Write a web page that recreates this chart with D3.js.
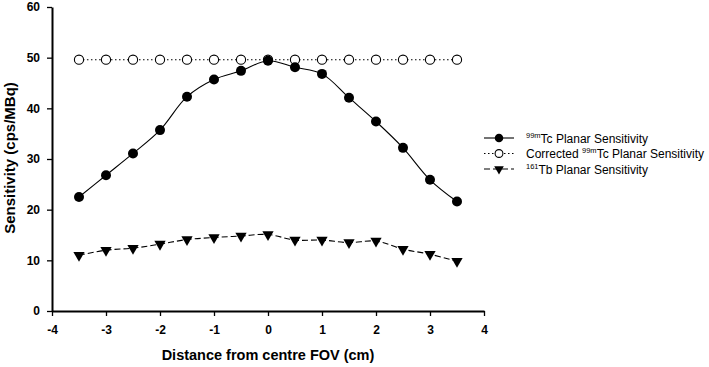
<!DOCTYPE html>
<html><head><meta charset="utf-8">
<script src="https://cdn.jsdelivr.net/npm/d3@7"></script>
<style>body{margin:0;background:#fff}svg{display:block}text{font-family:Arial,"Liberation Sans",sans-serif}</style>
</head><body><svg id="c" width="709" height="367"></svg>
<script>
const xVals = [-3.5,-3,-2.5,-2,-1.5,-1,-0.5,0,0.5,1,1.5,2,2.5,3,3.5];
const tcPlanar = [22.5,26.8,31.1,35.7,42.3,45.7,47.4,49.4,48.1,46.8,42.1,37.4,32.2,25.9,21.6];
const tcCorrected = [49.6,49.6,49.6,49.6,49.6,49.6,49.6,49.6,49.6,49.6,49.6,49.6,49.6,49.6,49.6];
const tbPlanar = [11.0,12.0,12.4,13.2,14.1,14.5,14.8,15.1,14.0,14.0,13.5,13.8,12.2,11.2,9.8];
const xTicks = [-4,-3,-2,-1,0,1,2,3,4];
const yTicks = [0,10,20,30,40,50,60];

const svg = d3.select("#c");
const x = d3.scaleLinear().domain([-4,4]).range([52,484]);
const y = d3.scaleLinear().domain([0,60]).range([311,7]);

// axes
const xa = svg.append("g").attr("transform","translate(0,311)")
  .call(d3.axisBottom(x).tickValues(xTicks).tickSize(5).tickSizeOuter(0).tickFormat(d=>String(d)));
const ya = svg.append("g").attr("transform","translate(52,0)")
  .call(d3.axisLeft(y).tickValues(yTicks).tickSize(5).tickSizeOuter(0).tickFormat(d=>String(d)));
[xa,ya].forEach(a=>{
  a.select(".domain").attr("stroke","#000").attr("stroke-width",2);
  a.selectAll(".tick line").attr("stroke","#000").attr("stroke-width",1.3);
  a.selectAll(".tick text").attr("font-size",12).attr("font-weight","bold").attr("fill","#000")
    .attr("font-family","Arial, 'Liberation Sans', sans-serif");
});
xa.selectAll(".tick text").attr("dy","1.25em");
ya.selectAll(".tick text").attr("dx","-4");

svg.append("text").attr("x",268).attr("y",360).attr("text-anchor","middle")
  .attr("font-size",14.5).attr("font-weight","bold").text("Distance from centre FOV (cm)");
svg.append("text").attr("transform","translate(15,158) rotate(-90)").attr("text-anchor","middle")
  .attr("font-size",15).attr("font-weight","bold").text("Sensitivity (cps/MBq)");

const line = d3.line().x(d=>x(d[0])).y(d=>y(d[1])).curve(d3.curveCatmullRom.alpha(0.5));
const tri = d3.symbol().type(d3.symbolTriangle).size(55);
const triSmall = d3.symbol().type(d3.symbolTriangle).size(40);

function series(vals, dash, marker){
  const pts = xVals.map((v,i)=>[v,vals[i]]);
  svg.append("path").datum(pts).attr("d",line).attr("fill","none").attr("stroke","#000")
    .attr("stroke-width",1.1).attr("stroke-dasharray",dash);
  const g = svg.append("g");
  pts.forEach(p=>drawMarker(g, x(p[0]), y(p[1]), marker, 1));
}
function drawMarker(g, cx, cy, m, s){
  if(m==="filled") g.append("circle").attr("cx",cx).attr("cy",cy).attr("r",5*s).attr("fill","#000");
  else if(m==="open") g.append("circle").attr("cx",cx).attr("cy",cy).attr("r",4.6*s).attr("fill","#fff").attr("stroke","#000").attr("stroke-width",1.1);
  else g.append("path").attr("d",s<1?triSmall:tri).attr("transform",`translate(${cx},${cy}) rotate(180)`).attr("fill","#000");
}
series(tcCorrected,"1.5,2.5","open");
series(tbPlanar,"6,3","tri");
series(tcPlanar,null,"filled");

// legend
const leg = [
  {dash:null,m:"filled",pre:"",sup:"99m",post:"Tc Planar Sensitivity"},
  {dash:"1.5,2.5",m:"open",pre:"Corrected ",sup:"99m",post:"Tc Planar Sensitivity"},
  {dash:"6,3",m:"tri",pre:"",sup:"161",post:"Tb Planar Sensitivity"}
];
leg.forEach((l,i)=>{
  const yy = 138 + i*15.5;
  const g = svg.append("g");
  g.append("line").attr("x1",484).attr("x2",514).attr("y1",yy).attr("y2",yy).attr("stroke","#000")
    .attr("stroke-width",1.1).attr("stroke-dasharray",l.dash);
  drawMarker(g,499,yy,l.m,0.85);
  const t = g.append("text").attr("x",526).attr("y",yy+4.5).attr("font-size",12).attr("fill","#000");
  if(l.pre) t.append("tspan").text(l.pre);
  t.append("tspan").attr("font-size",7.5).attr("dy",-5).text(l.sup);
  t.append("tspan").attr("dy",5).text(l.post);
});
</script></body></html>
